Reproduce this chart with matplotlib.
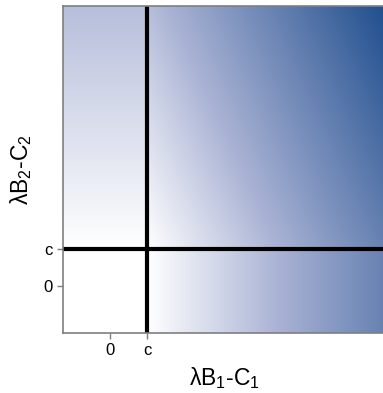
import matplotlib.pyplot as plt
import numpy as np
from matplotlib.colors import LinearSegmentedColormap

plt.rcParams['font.family'] = 'Liberation Sans'
plt.rcParams['mathtext.fontset'] = 'custom'
plt.rcParams['mathtext.rm'] = 'Liberation Sans'
plt.rcParams['mathtext.default'] = 'regular'

# threshold c and axis ranges (data units, 0 and c are the only ticks)
c = 1.0
x_range = [-1.27, 7.4]
y_range = [-1.27, 7.57]
tick_pos = [0, c]
tick_labels = ['0', 'c']

# how fast the shade grows past c along each axis
weight_x = 0.107
weight_y = 0.049

colors = ['#ffffff', '#a9b2d4', '#22508f']

xs = np.linspace(x_range[0], x_range[1], 600)
ys = np.linspace(y_range[0], y_range[1], 600)
X, Y = np.meshgrid(xs, ys)
Z = weight_x * np.clip(X - c, 0, None) + weight_y * np.clip(Y - c, 0, None)

cmap = LinearSegmentedColormap.from_list('wb', [(0, colors[0]), (0.38, colors[1]), (1, colors[2])])

fig = plt.figure(figsize=(3.83, 3.93), dpi=100)
ax = fig.add_axes([63/383, 60/393, 322/383, 327/393])
ax.imshow(Z, extent=[x_range[0], x_range[1], y_range[0], y_range[1]], origin='lower',
          cmap=cmap, vmin=0, vmax=1, aspect='auto', interpolation='bilinear')

ax.axvline(c, color='black', lw=3)
ax.axhline(c, color='black', lw=3)

ax.set_xlim(x_range)
ax.set_ylim(y_range)
ax.set_xticks(tick_pos)
ax.set_xticklabels(tick_labels)
ax.set_yticks(tick_pos)
ax.set_yticklabels(tick_labels)
ax.tick_params(colors='#7f7f7f', labelcolor='black', labelsize=12, length=4, width=1)

for s in ['left', 'bottom', 'top']:
    ax.spines[s].set_color('#7f7f7f')
    ax.spines[s].set_linewidth(1.2)
ax.spines['right'].set_visible(False)

ax.set_xlabel('λB$_1$-C$_1$', fontsize=16.5, labelpad=5)
ax.set_ylabel('λB$_2$-C$_2$', fontsize=16.5, labelpad=7)

plt.savefig('out.png', dpi=100)
